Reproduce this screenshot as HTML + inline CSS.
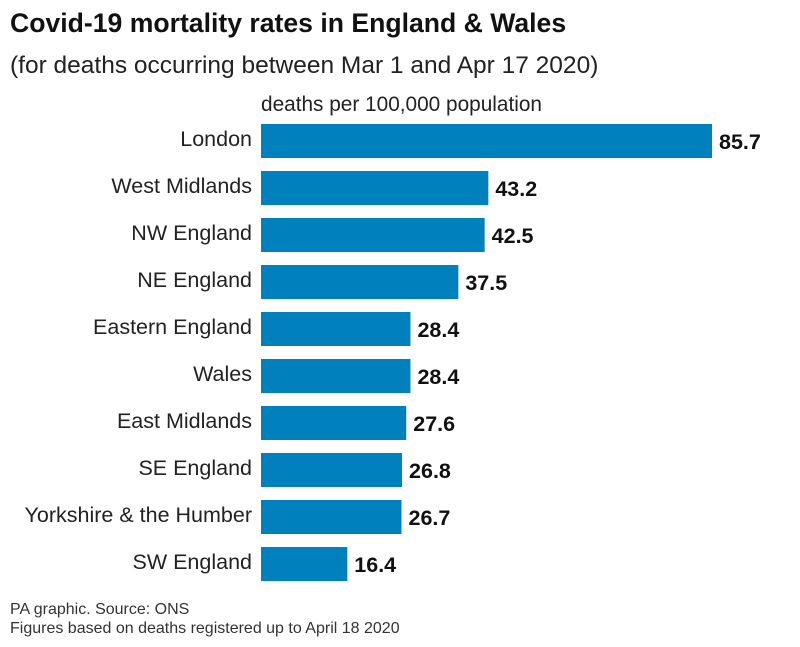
<!DOCTYPE html>
<html><head><meta charset="utf-8"><style>
body{margin:0;background:#fff;font-family:"Liberation Sans",sans-serif;}
svg{display:block}
</style></head><body>
<svg width="800" height="647" viewBox="0 0 800 647" id="chart">
<text x="10" y="32" font-size="26.6" font-weight="bold" fill="#111">Covid-19 mortality rates in England &amp; Wales</text>
<text x="10" y="73" font-size="24.5" fill="#222">(for deaths occurring between Mar 1 and Apr 17 2020)</text>
<text x="261" y="111" font-size="20.8" fill="#222">deaths per 100,000 population</text>
<g id="bars"></g>
<text x="10" y="614" font-size="16" fill="#333">PA graphic. Source: ONS</text>
<text x="10" y="633" font-size="16" fill="#333">Figures based on deaths registered up to April 18 2020</text>
</svg>
<script>
const categories=["London","West Midlands","NW England","NE England","Eastern England","Wales","East Midlands","SE England","Yorkshire & the Humber","SW England"];
const values=[85.7,43.2,42.5,37.5,28.4,28.4,27.6,26.8,26.7,16.4];
const labels=["85.7","43.2","42.5","37.5","28.4","28.4","27.6","26.8","26.7","16.4"];
const x0=261, pxPerUnit=451/85.7, y0=124, pitch=47, bh=34;
const xs=v=>x0+v*pxPerUnit;
const ys=i=>y0+i*pitch;
const g=document.getElementById('bars');
const NS="http://www.w3.org/2000/svg";
categories.forEach((c,i)=>{
  const r=document.createElementNS(NS,'rect');
  r.setAttribute('x',x0);r.setAttribute('y',ys(i));
  r.setAttribute('width',xs(values[i])-x0);r.setAttribute('height',bh);
  r.setAttribute('fill','#0080bc');
  
  
  g.appendChild(r);
  const t=document.createElementNS(NS,'text');
  t.setAttribute('x',252);t.setAttribute('y',ys(i)+bh/2+5);
  t.setAttribute('text-anchor','end');t.setAttribute('font-size','21.5');t.setAttribute('fill','#222');
  t.textContent=c;
  
  
  g.appendChild(t);
  const v=document.createElementNS(NS,'text');
  v.setAttribute('x',xs(values[i])+7);v.setAttribute('y',ys(i)+bh/2+8);
  v.setAttribute('font-size','21.5');v.setAttribute('font-weight','bold');v.setAttribute('fill','#111');
  v.textContent=labels[i];
  
  
  g.appendChild(v);
});
</script>
</body></html>
